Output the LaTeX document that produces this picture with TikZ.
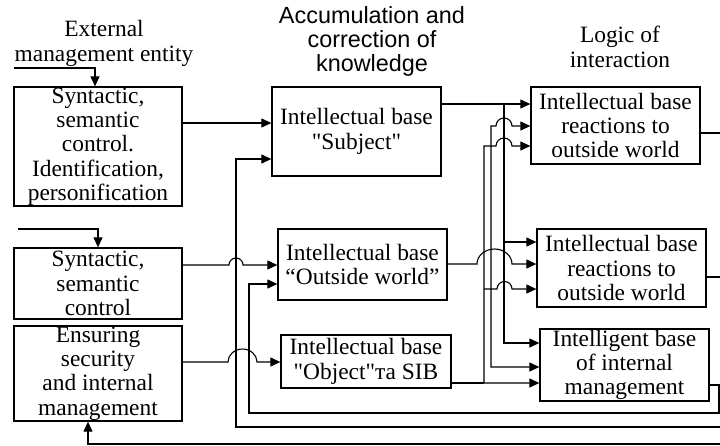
\documentclass[tikz,border=0pt]{standalone}
\usepackage{fontspec}
\setmainfont{Liberation Serif}[Ligatures=TeXOff]
\newfontfamily\headsans{Liberation Sans}
\usetikzlibrary{arrows.meta}

\begin{document}
\begin{tikzpicture}[x=1pt,y=-1pt,
		box/.style={draw,line width=1.3pt,inner sep=0pt,align=center,font=\fontsize{23.4}{24.3}\selectfont},
		head/.style={inner sep=0pt,align=center,font=\fontsize{23.4}{25}\selectfont},
		ln/.style={line width=1.1pt},
		arr/.style={ln,-{Triangle[length=10pt,width=9pt]}},
		dbl/.style={ln,{Triangle[length=10pt,width=9pt]}-{Triangle[length=10pt,width=9pt]}}]
		%%%%% START %%%%%
		\useasboundingbox (0,0) rectangle (720,445);
		
		\node[head] (ext) at (104,43) {External\\management entity};
		\node[head,font=\headsans\fontsize{23.4}{24}\selectfont] (acc) at (372,41) {Accumulation and\\correction of\\knowledge};
		\node[head] (logic) at (620,47) {Logic of\\interaction};
		
		\node[box,minimum width=168pt,minimum height=119pt] (l1) at (98,146.5) {Syntactic,\\semantic\\control.\\Identification,\\personification};
		\node[box,minimum width=168pt,minimum height=71pt] (l2) at (98,283.5) {Syntactic,\\semantic\\control};
		\node[box,minimum width=168pt,minimum height=95pt] (l3) at (98,373.5) {Ensuring\\security\\and internal\\management};
		
		\node[box,minimum width=169pt,minimum height=89pt] (subj) at (356.5,131.5) {Intellectual base\\"Subject"};
		\node[box,minimum width=169pt,minimum height=71pt] (ow) at (362.5,264.5) {Intellectual base\\“Outside world”};
		\node[box,minimum width=170pt,minimum height=53pt] (obj) at (366,361.5) {Intellectual base\\"Object"та SIB};
		
		\node[box,minimum width=169pt,minimum height=77pt] (r1) at (615.5,125.5) {Intellectual base\\reactions to\\outside world};
		\node[box,minimum width=169pt,minimum height=78pt] (r2) at (621.5,268) {Intellectual base\\reactions to\\outside world};
		\node[box,minimum width=169pt,minimum height=72pt] (r3) at (624.5,365) {Intelligent base\\of internal\\management};
		
		\coordinate (extin) at (14,68);
		\coordinate (ctlin) at (18,229);
		\coordinate (r1out) at (720,133);
		\coordinate (r2out) at (720,277);
		\coordinate (backA) at (720,427);
		\coordinate (backC) at (720,444);
		
		% left column inputs
		\draw[arr] (extin) -| ([xshift=-3pt]l1.north);
		\draw[arr] (ctlin) -| (l2.north);
		\draw[arr] (backC) -| ([xshift=-10pt]l3.south);
		
		\draw[arr] (l1.east |- 0,123) -- (subj.west |- 0,123);
		\draw[arr] (backA) -| (236,159) -- (subj.west |- 0,159);
		\draw[arr] (l2.east |- 0,265) -- (229,265) arc[start angle=180,end angle=0,radius=7pt] -- (ow.west |- 0,265);
		\draw[arr] (l3.east |- 0,362) -- (228,362) arc[start angle=180,end angle=0,x radius=14.5pt,y radius=13pt] -- (obj.west |- 0,362);
		\draw[arr] (r3.east |- 0,385) -- (719,385) |- (249,413) |- (ow.west |- 0,284);
		
		% bus to the logic blocks
		\draw[arr] (subj.east |- 0,104) -- (r1.west |- 0,104);
		\draw[arr] (504,104) |- (r3.west |- 0,343);
		\draw[arr] (504,242) -- (r2.west |- 0,242);
		\draw[dbl] (r1.west |- 0,126) -- (512,126) arc[start angle=0,end angle=180,radius=8pt] -- (491,126) |- (r3.west |- 0,367);
		\draw[dbl] (r1.west |- 0,146) -- (512,146) arc[start angle=0,end angle=180,radius=8pt] -- (484,146) |- (r3.west |- 0,383);
		\draw[ln] (obj.east |- 0,383) -- (484,383);
		\draw[arr] (484,289) -- (497,289) arc[start angle=180,end angle=0,radius=7.5pt] -- (r2.west |- 0,289);
		\draw[arr] (ow.east |- 0,264) -- (477,264) arc[start angle=180,end angle=0,x radius=17.5pt,y radius=15pt] -- (r2.west |- 0,264);
		
		\draw[ln] (r1.east |- 0,133) -- (r1out);
		\draw[ln] (r2.east |- 0,277) -- (r2out);
		%%%%% END %%%%%
	\end{tikzpicture}
\end{document}
